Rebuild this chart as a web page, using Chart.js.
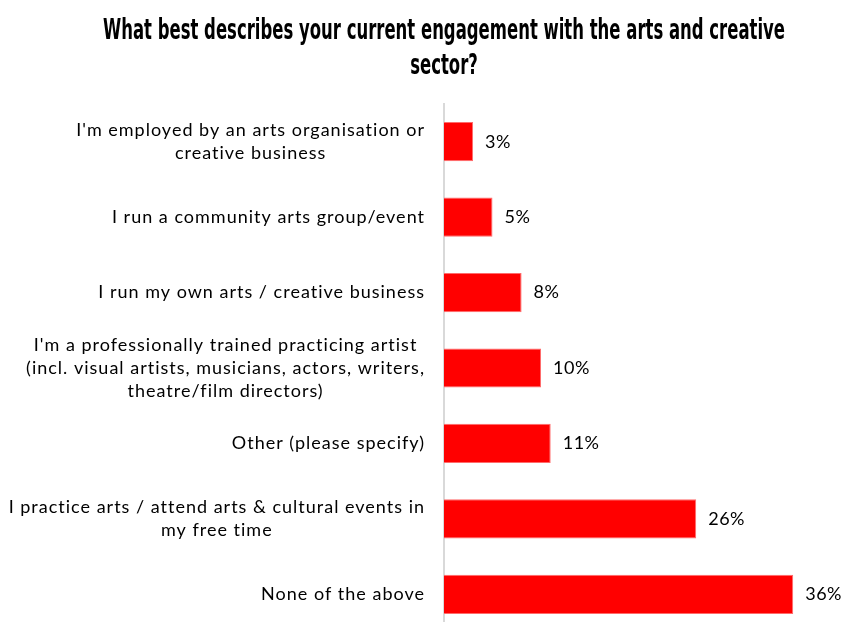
<!DOCTYPE html>
<html>
<head>
<meta charset="utf-8">
<script src="https://cdn.jsdelivr.net/npm/chart.js@4/dist/chart.umd.min.js"></script>
<style>
    html, body { margin: 0; padding: 0; background: #fff; }
    #wrap { width: 842px; height: 622px; overflow: hidden; }
</style>
</head>
<body>
<div id="wrap">
    <canvas id="engagementChart" width="842" height="632"></canvas>
</div>
<script>
// Survey answers, top to bottom
const categories = [
    ["I'm employed by an arts organisation or", "creative business"],
    ["I run a community arts group/event"],
    ["I run my own arts / creative business"],
    ["I'm a professionally trained practicing artist", "(incl. visual artists, musicians, actors, writers,", "theatre/film directors)"],
    ["Other (please specify)"],
    ["I practice arts / attend arts & cultural events in", "my free time"],
    ["None of the above"]
];
const shares = [3, 5, 8, 10, 11, 26, 36];

const titleLines = [
    "What best describes your current engagement with the arts and creative",
    "sector?"
];

const LABEL_FONT = '18px Lato, "DejaVu Sans", sans-serif';
const AXIS_X = 444;
const TITLE_WIDTH = 682;

// Condensed heading: bold face squeezed so the first line is TITLE_WIDTH wide
const heading = {
    id: 'heading',
    afterDraw(chart) {
        const ctx = chart.ctx;
        ctx.save();
        ctx.font = 'bold 28px "DejaVu Sans Condensed", "DejaVu Sans", sans-serif';
        ctx.letterSpacing = '0px';
        ctx.fillStyle = '#000';
        ctx.textAlign = 'center';
        ctx.textBaseline = 'alphabetic';
        const squeeze = TITLE_WIDTH / ctx.measureText(titleLines[0]).width;
        ctx.translate(444, 0);
        ctx.scale(squeeze, 1);
        titleLines.forEach((t, i) => ctx.fillText(t, 0, 39 + i * 35));
        ctx.restore();
    }
};

// Category labels: each block right-aligned to the axis, lines centred inside it
const categoryLabels = {
    id: 'categoryLabels',
    afterDraw(chart) {
        const ctx = chart.ctx;
        const yScale = chart.scales.y;
        const lineH = 23;
        ctx.save();
        ctx.font = LABEL_FONT;
        ctx.letterSpacing = '1px';
        ctx.fillStyle = '#000';
        ctx.textAlign = 'center';
        ctx.textBaseline = 'middle';
        categories.forEach((lines, i) => {
            const blockW = Math.max(...lines.map(l => ctx.measureText(l).width));
            const cx = AXIS_X - 19 - blockW / 2;
            const cy = yScale.getPixelForValue(i);
            const top = cy - (lines.length - 1) * lineH / 2;
            lines.forEach((l, j) => ctx.fillText(l, cx, top + j * lineH));
        });
        ctx.letterSpacing = '0px';
        ctx.restore();
    }
};

// Percentage after each bar
const valueLabels = {
    id: 'valueLabels',
    afterDatasetsDraw(chart) {
        const ctx = chart.ctx;
        const meta = chart.getDatasetMeta(0);
        ctx.save();
        ctx.font = LABEL_FONT;
        ctx.letterSpacing = '0.5px';
        ctx.fillStyle = '#000';
        ctx.textAlign = 'left';
        ctx.textBaseline = 'middle';
        meta.data.forEach((bar, i) => {
            ctx.fillText(shares[i] + '%', bar.x + 12, bar.y);
        });
        ctx.letterSpacing = '0px';
        ctx.restore();
    }
};

const ctx = document.getElementById('engagementChart').getContext('2d');
new Chart(ctx, {
    type: 'bar',
    data: {
        labels: categories,
        datasets: [{
            data: shares,
            backgroundColor: '#ff0000',
            borderColor: '#ff6b6b',
            borderWidth: 1,
            barPercentage: 0.52,
            categoryPercentage: 1
        }]
    },
    options: {
        indexAxis: 'y',
        responsive: false,
        animation: false,
        layout: {
            padding: { left: 0, right: 10, top: 104, bottom: 0 }
        },
        plugins: {
            legend: { display: false },
            tooltip: { enabled: false },
            title: { display: false }
        },
        scales: {
            x: {
                display: false,
                min: 0,
                max: 40
            },
            y: {
                grid: { display: false },
                border: { display: true, color: '#d9d9d9', width: 2 },
                ticks: { display: false },
                afterFit(scale) {
                    scale.width = AXIS_X;
                }
            }
        }
    },
    plugins: [heading, categoryLabels, valueLabels]
});
</script>
</body>
</html>
